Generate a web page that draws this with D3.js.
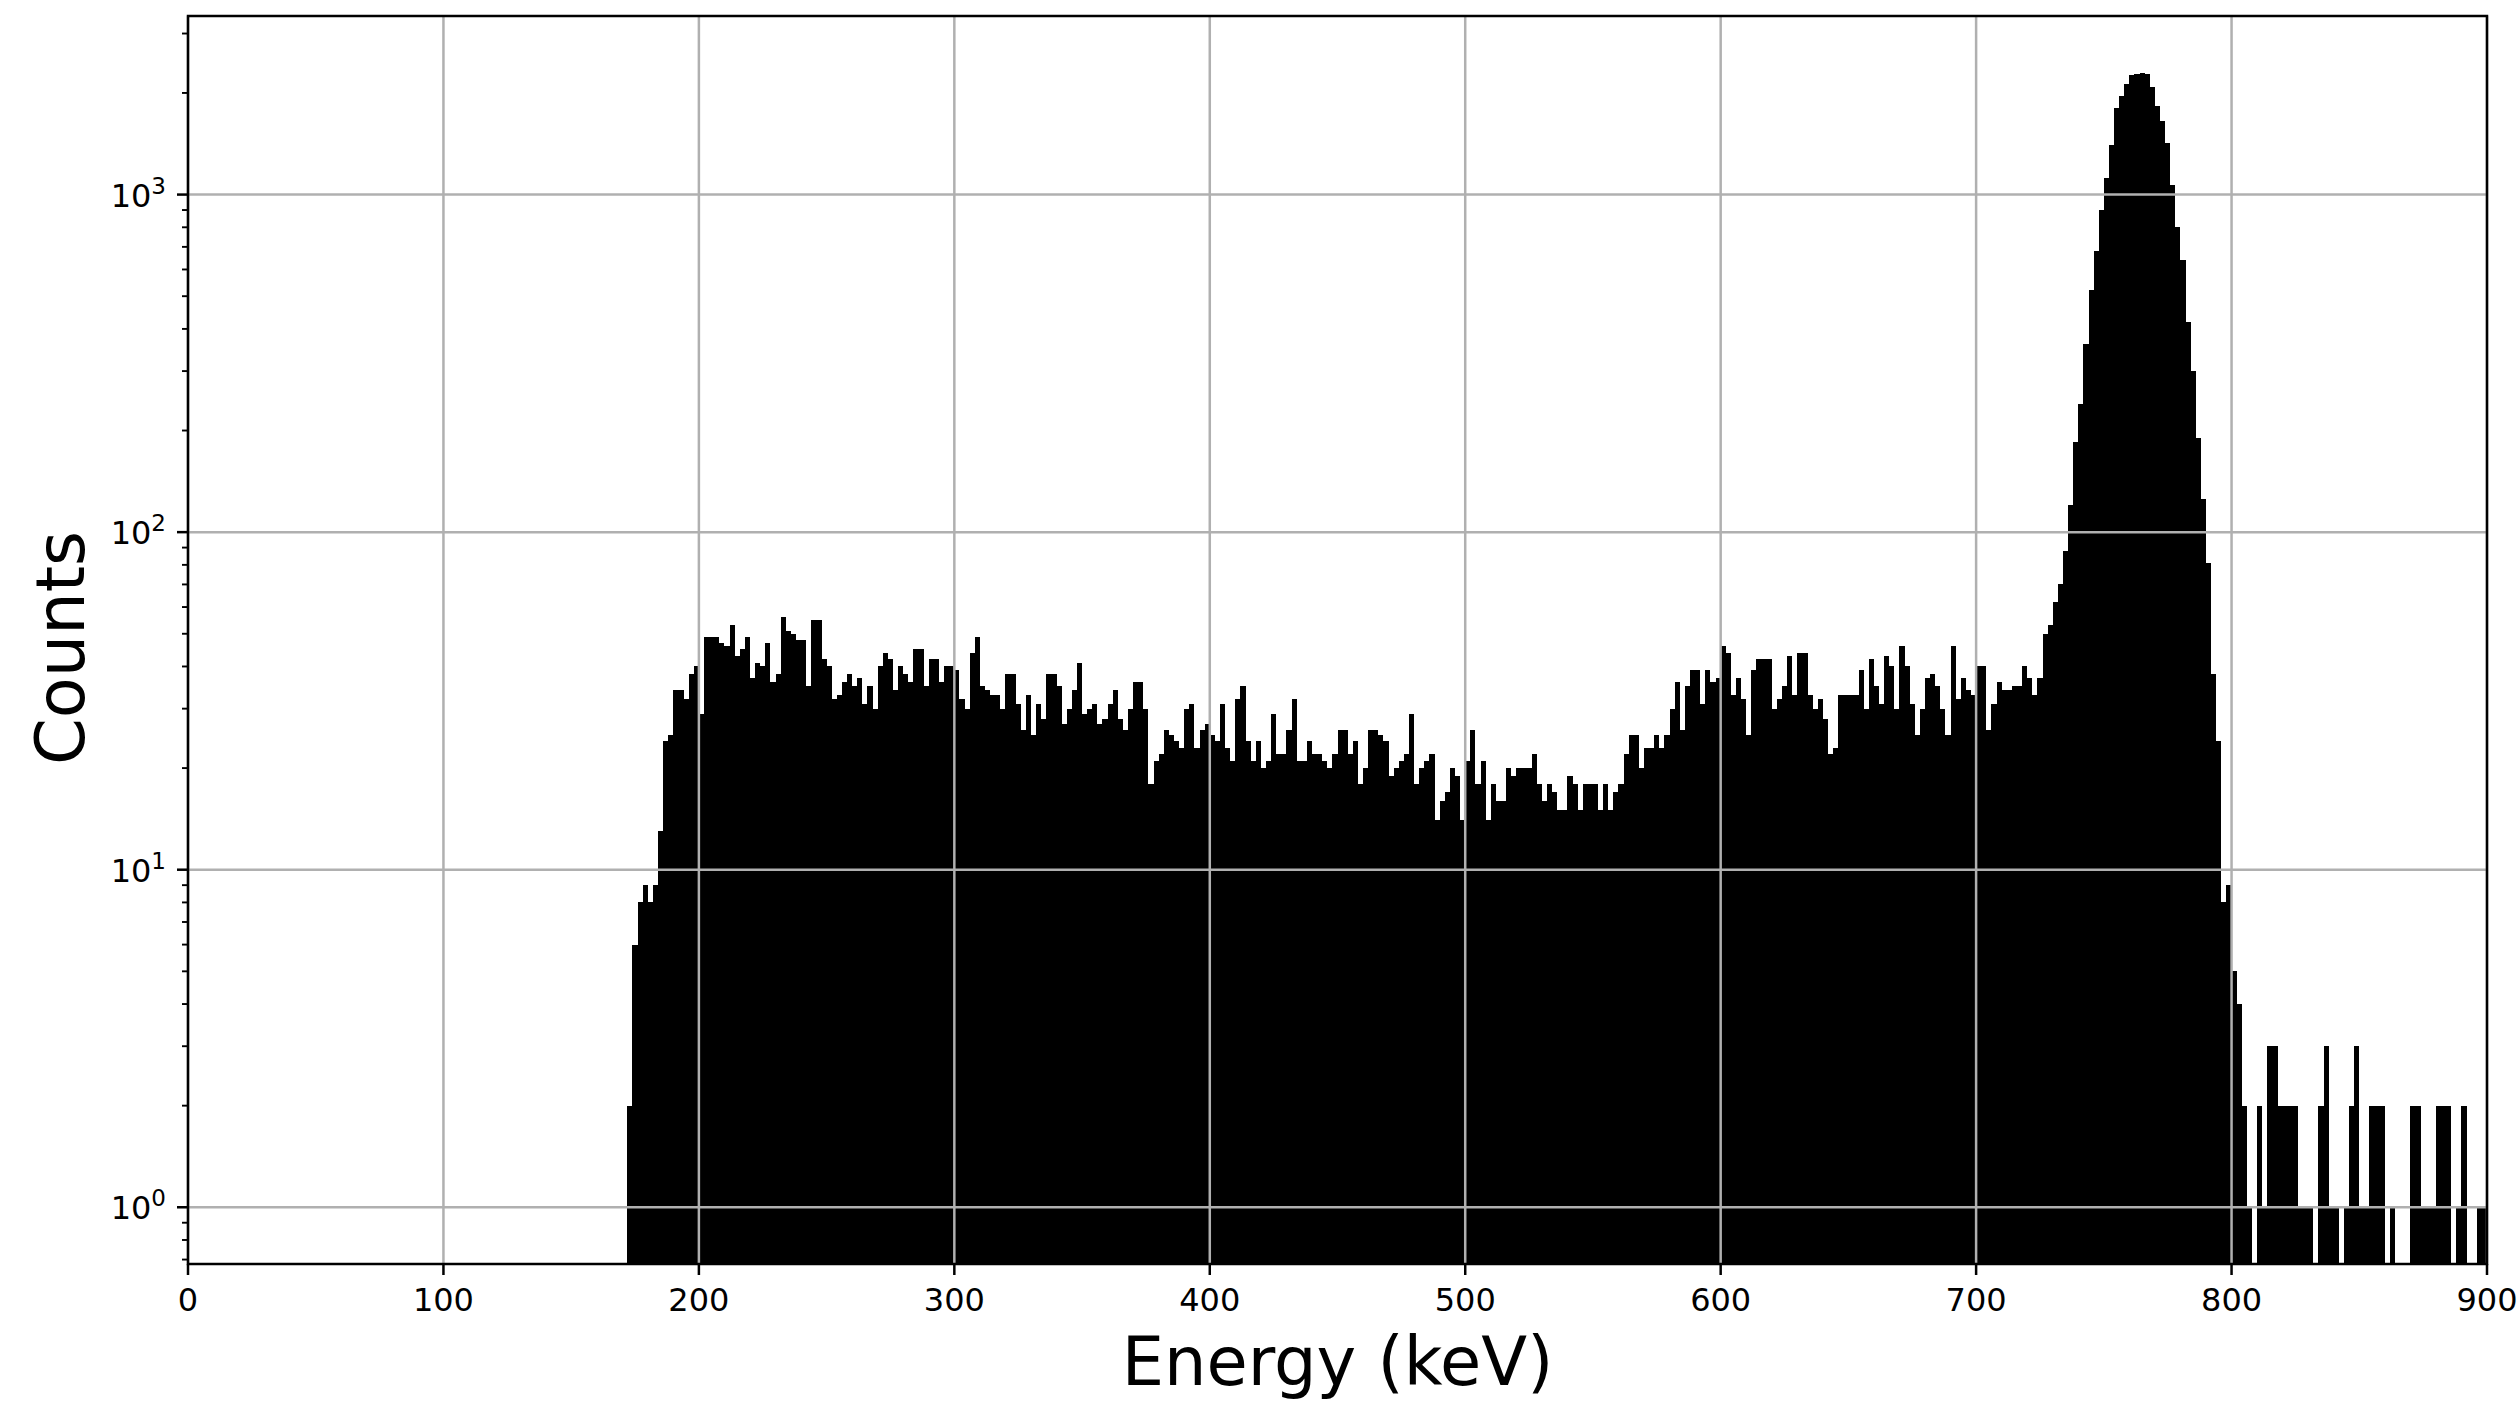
<!DOCTYPE html>
<html>
<head>
<meta charset="utf-8">
<script src="https://cdn.jsdelivr.net/npm/d3@7"></script>
<style>
  body { margin: 0; background: #fff; }
  svg { display: block; }
  text { font-family: "DejaVu Sans", sans-serif; fill: #000; }
</style>
</head>
<body>
<script>
// histogram: 2 keV bins starting at 172 keV
const binStart = 172;
const binWidth = 2;
const counts = [
  2, 6, 8, 9, 8, 9, 13, 24, 25, 34, 34, 32, 38, 40, 29, 49, 49, 49, 47, 46,      // 172-210
  53, 43, 45, 49, 37, 41, 40, 47, 36, 38, 56, 51, 50, 48, 48, 35, 55, 55, 42, 40, // 212-250
  32, 33, 36, 38, 35, 37, 31, 35, 30, 40, 44, 42, 34, 40, 38, 36, 45, 45, 35, 42, // 252-290
  42, 36, 40, 40, 39, 32, 30, 44, 49, 35, 34, 33, 33, 30, 38, 38, 31, 26, 33, 25, // 292-330
  31, 28, 38, 38, 35, 27, 30, 34, 41, 29, 30, 31, 27, 28, 31, 34, 28, 26, 30, 36, // 332-370
  36, 30, 18, 21, 22, 26, 25, 24, 23, 30, 31, 23, 26, 27, 25, 24, 31, 23, 21, 32, // 372-410
  35, 24, 21, 24, 20, 21, 29, 22, 22, 26, 32, 21, 21, 24, 22, 22, 21, 20, 22, 26, // 412-450
  26, 22, 24, 18, 20, 26, 26, 25, 24, 19, 20, 21, 22, 29, 18, 20, 21, 22, 14, 16, // 452-490
  17, 20, 19, 14, 21, 26, 18, 21, 14, 18, 16, 16, 20, 19, 20, 20, 20, 22, 18, 16, // 492-530
  18, 17, 15, 15, 19, 18, 15, 18, 18, 18, 15, 18, 15, 17, 18, 22, 25, 25, 20, 23, // 532-570
  23, 25, 23, 25, 30, 36, 26, 35, 39, 39, 31, 39, 36, 37, 46, 44, 33, 37, 32, 25, // 572-610
  39, 42, 42, 42, 30, 32, 35, 43, 33, 44, 44, 33, 30, 32, 28, 22, 23, 33, 33, 33, // 612-650
  33, 39, 30, 42, 35, 31, 43, 40, 30, 46, 40, 31, 25, 30, 37, 38, 35, 30, 25, 46, // 652-690
  32, 37, 34, 33, 40, 40, 26, 31, 36, 34, 34, 35, 35, 40, 37, 33, 37, 50, 53, 62, // 692-730
  70, 88, 120, 185, 240, 360, 520, 680, 900, 1120, 1400, 1800, 1960, 2130, 2260, 2280, 2296, 2270, 2080, 1830, // 732-770
  1650, 1420, 1070, 800, 640, 420, 300, 190, 125, 81, 38, 24, 8, 9, 5, 4, 2, 1, 0, 2, // 772-810
  1, 3, 3, 2, 2, 2, 2, 1, 1, 1, 0, 2, 3, 1, 1, 0, 1, 2, 3, 1,                   // 812-850
  1, 2, 2, 2, 0, 1, 0, 0, 0, 2, 2, 1, 1, 1, 2, 2, 2, 0, 1, 2,                   // 852-890
  0, 0, 1, 1                                                                    // 892-898
];
const xTicks = [0, 100, 200, 300, 400, 500, 600, 700, 800, 900];
const yDecades = [0, 1, 2, 3];
const xLabel = "Energy (keV)";
const yLabel = "Counts";

const W = 2519, H = 1402;
const m = {left: 188, right: 2487, top: 16, bottom: 1264};

const svg = d3.select("body").append("svg")
    .attr("width", W)
    .attr("height", H);

const x = d3.scaleLinear([0, 900], [m.left, m.right]);

// matplotlib-like log autoscale with 5% margins
const lo = Math.log10(d3.min(counts.filter(c => c > 0)));
const hi = Math.log10(d3.max(counts));
const pad = (hi - lo) * 0.05;
const y = d3.scaleLog([10 ** (lo - pad), 10 ** (hi + pad)], [m.bottom, m.top]);

svg.append("clipPath").attr("id", "plot")
  .append("rect")
    .attr("x", m.left).attr("y", m.top)
    .attr("width", m.right - m.left).attr("height", m.bottom - m.top);

const bins = counts.map((c, i) => ({x0: binStart + i * binWidth, x1: binStart + (i + 1) * binWidth, c}));

svg.append("g")
    .attr("clip-path", "url(#plot)")
    .attr("shape-rendering", "crispEdges")
  .selectAll("rect")
  .data(bins.filter(d => d.c > 0))
  .join("rect")
    .attr("x", d => x(d.x0))
    .attr("width", d => x(d.x1) - x(d.x0))
    .attr("y", d => y(d.c))
    .attr("height", d => m.bottom - y(d.c))
    .attr("fill", "#000");

// grid on top of the bars
const grid = svg.append("g").attr("stroke", "#b0b0b0").attr("stroke-width", 2.5);
grid.selectAll(".gx").data(xTicks).join("line")
    .attr("x1", d => x(d)).attr("x2", d => x(d))
    .attr("y1", m.top).attr("y2", m.bottom);
grid.selectAll(".gy").data(yDecades).join("line")
    .attr("x1", m.left).attr("x2", m.right)
    .attr("y1", d => y(10 ** d)).attr("y2", d => y(10 ** d));

// ticks
const ticks = svg.append("g").attr("stroke", "#000");
ticks.selectAll(".tx").data(xTicks).join("line")
    .attr("x1", d => x(d)).attr("x2", d => x(d))
    .attr("y1", m.bottom).attr("y2", m.bottom + 11)
    .attr("stroke-width", 2.5);

const yMinor = y.ticks().filter(v => Math.abs(Math.log10(v) - Math.round(Math.log10(v))) > 1e-9);
ticks.selectAll(".tym").data(yMinor).join("line")
    .attr("x1", m.left - 6).attr("x2", m.left)
    .attr("y1", d => y(d)).attr("y2", d => y(d))
    .attr("stroke-width", 1.9);
ticks.selectAll(".tyM").data(yDecades).join("line")
    .attr("x1", m.left - 11).attr("x2", m.left)
    .attr("y1", d => y(10 ** d)).attr("y2", d => y(10 ** d))
    .attr("stroke-width", 2.5);

// spines
svg.append("rect")
    .attr("x", m.left).attr("y", m.top)
    .attr("width", m.right - m.left).attr("height", m.bottom - m.top)
    .attr("fill", "none").attr("stroke", "#000").attr("stroke-width", 2.5);

// tick labels
svg.append("g").selectAll("text").data(xTicks).join("text")
    .attr("x", d => x(d)).attr("y", 1311)
    .attr("text-anchor", "middle")
    .attr("font-size", 32)
    .text(d => d);

const yl = svg.append("g").selectAll("text").data(yDecades).join("text")
    .attr("x", m.left - 22).attr("y", d => y(10 ** d) + 12)
    .attr("text-anchor", "end")
    .attr("font-size", 32);
yl.append("tspan").text("10");
yl.append("tspan").attr("dy", -13).attr("font-size", 23).text(d => d);

// axis labels
svg.append("text")
    .attr("x", (m.left + m.right) / 2).attr("y", 1385)
    .attr("text-anchor", "middle")
    .attr("font-size", 67)
    .text(xLabel);

svg.append("text")
    .attr("transform", `translate(84,${(m.top + m.bottom) / 2 + 8}) rotate(-90)`)
    .attr("text-anchor", "middle")
    .attr("font-size", 67)
    .text(yLabel);
</script>
</body>
</html>
